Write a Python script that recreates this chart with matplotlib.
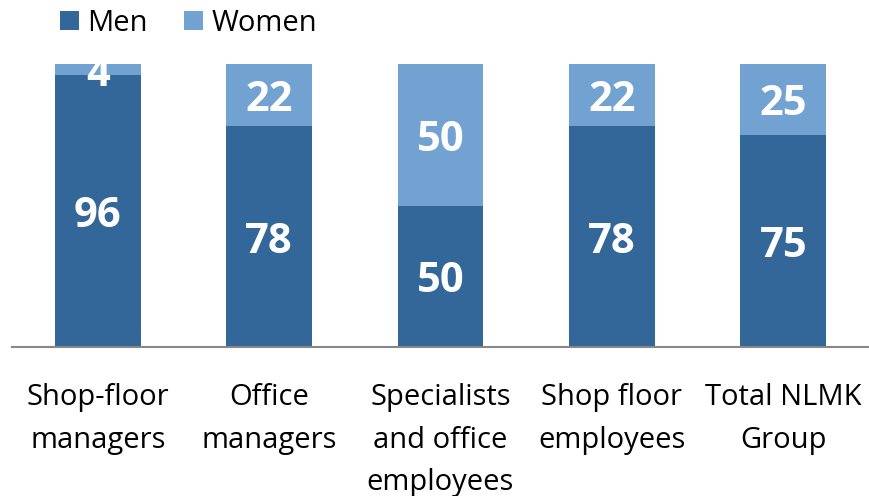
import matplotlib.pyplot as plt
import numpy as np

plt.rcParams["font.family"] = ["Open Sans", "DejaVu Sans"]

categories = ["Shop-floor\nmanagers", "Office\nmanagers", "Specialists\nand office\nemployees",
              "Shop floor\nemployees", "Total NLMK\nGroup"]
men = [96, 78, 50, 78, 75]
women = [4, 22, 50, 22, 25]

MEN_COLOR = "#336699"
WOMEN_COLOR = "#71a2d2"

fig = plt.figure(figsize=(8.69, 4.96), dpi=100)
ax = fig.add_axes([12 / 869, 1 - 347 / 496, 1 - 12 / 869, (347 - 64) / 496])

x = np.arange(len(categories))
b1 = ax.bar(x, men, width=0.5, color=MEN_COLOR, label="Men")
b2 = ax.bar(x, women, width=0.5, bottom=men, color=WOMEN_COLOR, label="Women")

for i in range(len(categories)):
    ax.annotate(str(men[i]), (x[i], men[i] / 2), xytext=(0, -4), textcoords="offset points",
                ha="center", va="center", color="white", fontsize=30, fontweight="bold",
                annotation_clip=False, clip_on=True)
    ax.annotate(str(women[i]), (x[i], men[i] + women[i] / 2), xytext=(0, -4),
                textcoords="offset points", ha="center", va="center", color="white",
                fontsize=30, fontweight="bold", annotation_clip=False, clip_on=True)

ax.set_xlim(-0.5, 4.5)
ax.set_ylim(0, 100)
ax.set_yticks([])
ax.set_xticks(x)
ax.set_xticklabels(categories, fontsize=21, linespacing=1.62)
ax.tick_params(axis="x", length=0, pad=26)
for side in ["top", "right", "left"]:
    ax.spines[side].set_visible(False)
ax.spines["bottom"].set_color("#888888")
ax.spines["bottom"].set_linewidth(1.5)

fig.legend(handles=[b1, b2], loc="upper left", bbox_to_anchor=(48 / 869, 1.006), ncol=2,
           frameon=False, fontsize=21, handlelength=0.65, handleheight=0.65,
           handletextpad=0.3, columnspacing=1.25, borderaxespad=0.0)

fig.savefig("out.png", dpi=100)
